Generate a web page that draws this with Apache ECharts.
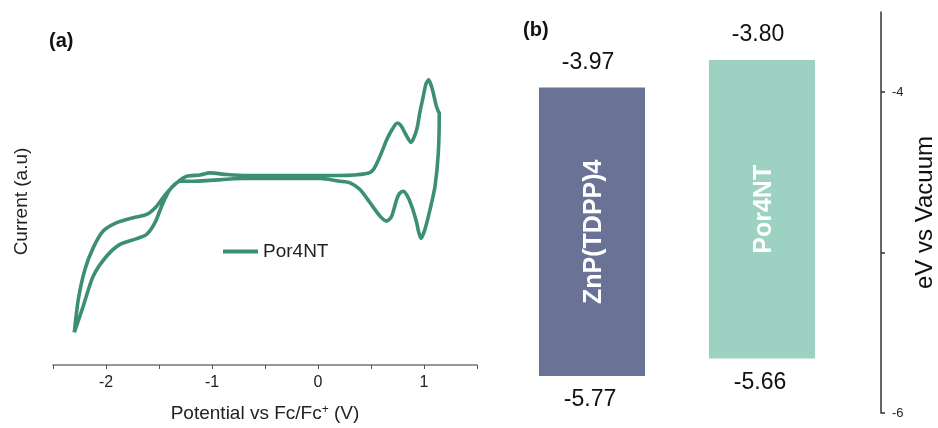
<!DOCTYPE html>
<html><head><meta charset="utf-8">
<script src="https://cdn.jsdelivr.net/npm/echarts@6/dist/echarts.min.js"></script>
<style>html,body{margin:0;padding:0;background:#fff}#c{width:938px;height:428px}</style>
</head><body><div id="c"></div>
<script>
// (a) Cyclic voltammogram of Por4NT (potential in V vs Fc/Fc+, current in arbitrary units)
const potential = [-2.299,-2.261,-2.198,-2.120,-2.026,-1.899,-1.742,-1.616,-1.522,-1.427,-1.333,-1.239,-1.113,-1.019,-0.861,-0.673,-0.170,0.208,0.459,0.522,0.585,0.648,0.698,0.748,0.783,0.821,0.877,0.931,0.962,0.993,1.019,1.044,1.066,1.088,1.113,1.135,1.144,
  1.135,1.104,1.057,1.009,0.972,0.948,0.931,0.884,0.840,0.805,0.769,0.742,0.695,0.648,0.585,0.491,0.396,0.302,0.208,0.019,-0.170,-0.705,-1.176,-1.302,-1.396,-1.475,-1.538,-1.616,-1.710,-1.868,-1.993,-2.120,-2.214,-2.299];
const current = [0.327,0.660,0.960,1.177,1.343,1.427,1.477,1.510,1.593,1.727,1.827,1.893,1.905,1.927,1.910,1.900,1.900,1.900,1.920,1.960,2.093,2.260,2.360,2.427,2.400,2.327,2.233,2.360,2.540,2.693,2.820,2.860,2.810,2.727,2.610,2.543,2.527,
  2.127,1.793,1.560,1.360,1.270,1.340,1.427,1.593,1.700,1.743,1.720,1.660,1.493,1.443,1.493,1.627,1.760,1.827,1.843,1.870,1.870,1.870,1.843,1.843,1.760,1.593,1.427,1.310,1.267,1.210,1.093,0.893,0.593,0.327];
const seriesName = 'Por4NT';
const potentialTicks = [-2.5,-2,-1.5,-1,-0.5,0,0.5,1,1.5];
const potentialLabels = [-2,-1,0,1];

// (b) Energy levels (eV vs vacuum)
const materials = ['ZnP(TDPP)4','Por4NT'];
const lumo = [-3.97,-3.80];
const homo = [-5.77,-5.66];
const energyTicks = [-6,-5,-4];
const energyLabels = [-6,-4];

const FONT = 'Liberation Sans, Arial, sans-serif';
const lineColor = '#3d8f71';
const barColors = ['#6a7396','#9dd1c1'];

const chart = echarts.init(document.getElementById('c'), null, {renderer:'canvas'});
chart.setOption({
  animation:false,
  textStyle:{fontFamily:FONT},
  grid:[
    {left:53, top:20, width:424, height:346},
    {left:507, top:12, width:340, height:401}
  ],
  legend:{
    data:[seriesName], left:223, top:242, padding:0,
    icon:'rect', itemWidth:35, itemHeight:4,
    textStyle:{fontSize:19, color:'#222', fontFamily:FONT}
  },
  xAxis:[
    {gridIndex:0, type:'value', min:-2.5, max:1.5, interval:0.5,
     axisLine:{lineStyle:{color:'#777', width:1.5}},
     axisTick:{show:true, length:4, lineStyle:{color:'#555', width:1}, customValues:potentialTicks},
     axisLabel:{fontSize:16, color:'#222', margin:10, customValues:potentialLabels, formatter:v=>String(v)},
     splitLine:{show:false},
     name:'Potential vs Fc/Fc{s|+} (V)', nameLocation:'middle', nameGap:39,
     nameTextStyle:{fontSize:19, color:'#222', rich:{s:{fontSize:12, verticalAlign:'top', color:'#222'}}}
    },
    {gridIndex:1, type:'category', data:materials, show:false}
  ],
  yAxis:[
    {gridIndex:0, type:'value', min:0, max:3.46,
     axisLine:{show:false}, axisTick:{show:false}, axisLabel:{show:false}, splitLine:{show:false},
     name:'Current (a.u)', nameLocation:'middle', nameGap:22,
     nameTextStyle:{fontSize:19, color:'#222', padding:[0,18,0,0]}
    },
    {gridIndex:1, type:'value', position:'right', offset:34, min:-6, max:-3.5,
     axisLine:{show:true, lineStyle:{color:'#333', width:1.5}},
     axisTick:{show:true, inside:false, length:4, lineStyle:{color:'#333', width:1.5}, customValues:energyTicks},
     axisLabel:{fontSize:13, color:'#222', margin:11, customValues:energyLabels, formatter:v=>String(v)},
     splitLine:{show:false},
     name:'eV vs Vacuum', nameLocation:'middle', nameGap:32, nameRotate:90,
     nameTextStyle:{fontSize:24, color:'#111'}
    }
  ],
  graphic:[
    {type:'text', left:49, top:31, style:{text:'(a)', font:'bold 20px '+FONT, fill:'#111'}},
    {type:'text', left:523, top:20, style:{text:'(b)', font:'bold 20px '+FONT, fill:'#111'}}
  ],
  series:[
    {name:seriesName, type:'line', xAxisIndex:0, yAxisIndex:0,
     data:potential.map((p,i)=>[p,current[i]]),
     showSymbol:false, smooth:0.25,
     lineStyle:{width:3.6, color:lineColor}, itemStyle:{color:lineColor}},
    {type:'custom', xAxisIndex:1, yAxisIndex:1,
     data:materials.map((m,i)=>[i, lumo[i], homo[i]]),
     encode:{x:0, y:[1,2]},
     renderItem:function(params, api){
       const i = api.value(0);
       const t = api.coord([i, api.value(1)]);
       const b = api.coord([i, api.value(2)]);
       const w = api.size([1,0])[0]*0.624;
       const cx = t[0];
       return {type:'group', children:[
         {type:'rect', shape:{x:cx-w/2, y:t[1], width:w, height:b[1]-t[1]}, style:{fill:barColors[i]}},
         {type:'text', x:cx-4, y:t[1]-25, style:{text:api.value(1).toFixed(2), font:'23px '+FONT, fill:'#111', align:'center', verticalAlign:'middle'}},
         {type:'text', x:cx-2, y:b[1]+24, style:{text:api.value(2).toFixed(2), font:'23px '+FONT, fill:'#111', align:'center', verticalAlign:'middle'}},
         {type:'text', x:cx+2, y:(t[1]+b[1])/2, rotation:Math.PI/2, style:{text:materials[i], font:'bold 25px '+FONT, fill:'#fff', align:'center', verticalAlign:'middle'}}
       ]};
     }
    }
  ]
});
</script>
</body></html>
